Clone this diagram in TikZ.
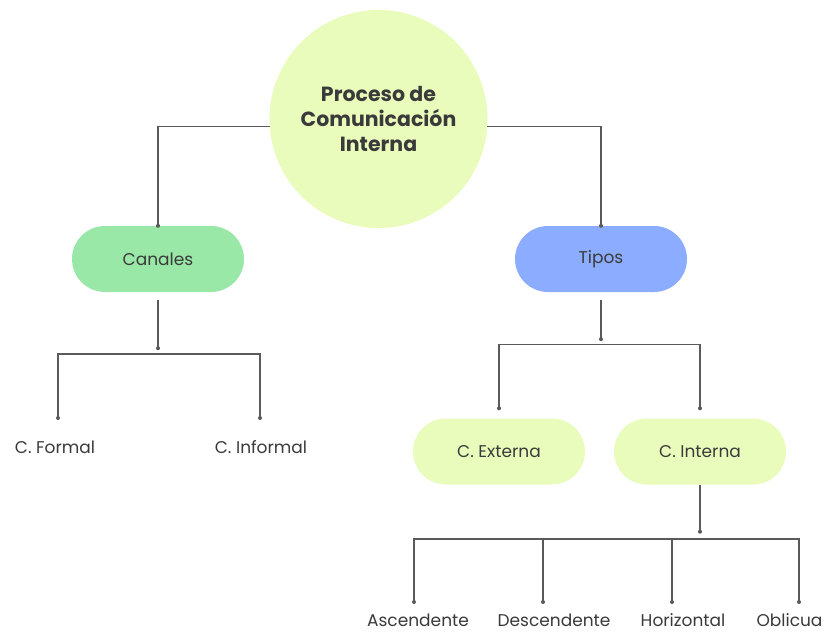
\documentclass[tikz,border=0pt]{standalone}
\usepackage{fontspec}
\setmainfont{Poppins}
\usetikzlibrary{calc}
\definecolor{lime1}{HTML}{E9FCBB}
\definecolor{green1}{HTML}{9AE8A8}
\definecolor{blue1}{HTML}{8CADFF}
\definecolor{txt}{HTML}{3A3A3A}
\definecolor{linec}{HTML}{5A5A5A}
\begin{document}
\begin{tikzpicture}[x=1pt,y=-1pt,
  conn/.style={draw=linec, line width=1.1pt},
  pill/.style={fill=#1, rounded corners=33pt, minimum width=172pt, minimum height=66pt, inner sep=0pt, text=txt, font=\fontsize{17}{20}\selectfont},
  lbl/.style={text=txt, font=\fontsize{17}{20}\selectfont, inner sep=0pt},
  dotc/.style={circle, fill=linec, inner sep=0pt, minimum size=4pt}]
\useasboundingbox[fill=white] (0,0) rectangle (826,632);
\node[circle, fill=lime1, minimum size=218pt, inner sep=0pt, align=center, font=\bfseries\fontsize{20.5}{25}\selectfont, text=txt] (root) at (378.5,119) {Proceso de\\Comunicación\\Interna};
\node[pill=green1] (canales) at (158,259) {Canales};
\node[pill=blue1] (tipos) at (601,259) {Tipos};
\node[pill=lime1] (cext) at (499,451.5) {C. Externa};
\node[pill=lime1] (cint) at (700,451.5) {C. Interna};
% labels
\node[lbl] (cf) at (55,447) {C. Formal};
\node[lbl] (ci) at (261,447) {C. Informal};
\node[lbl] (asc) at (418,620) {Ascendente};
\node[lbl] (des) at (554,620) {Descendente};
\node[lbl] (hor) at (683,620) {Horizontal};
\node[lbl] (obl) at (789.5,620) {Oblicua};
% root to children
\node[dotc] (dcan) at (canales.north) {};
\node[dotc] (dtip) at (tipos.north) {};
\draw[conn] (root.184.2) -| (dcan.center);
\draw[conn] (root.-4.2) -| (dtip.center);
% canales branch
\node[dotc] (qcan) at ($(canales.south)+(0,56)$) {};
\draw[conn] ($(canales.south)+(0,8)$) -- (qcan.center);
\node[dotc] (pcf) at (58,418) {};
\node[dotc] (pci) at (260,418) {};
\draw[conn] (pcf.center) -- ($(pcf.center)+(0,-64)$) -| (pci.center);
% tipos branch
\node[dotc] (qtip) at ($(tipos.south)+(0,47)$) {};
\draw[conn] ($(tipos.south)+(0,8)$) -- (qtip.center);
\node[dotc] (pce) at ($(cext.north)+(0,-10)$) {};
\node[dotc] (pci2) at ($(cint.north)+(0,-10)$) {};
\draw[conn] (pce.center) -- ($(pce.center)+(0,-64)$) -| (pci2.center);
% interna branch
\node[dotc] (qint) at ($(cint.south)+(0,47)$) {};
\draw[conn] (cint.south) -- (qint.center);
\node[dotc] (pa) at (414,602) {};
\node[dotc] (pd) at (543,602) {};
\node[dotc] (ph) at (672,602) {};
\node[dotc] (po) at (799,602) {};
\draw[conn] (pa.center) -- ($(pa.center)+(0,-63)$) -| (po.center);
\draw[conn] (pd.center) -- (pd.center |- 0,539);
\draw[conn] (ph.center) -- (ph.center |- 0,539);
\end{tikzpicture}
\end{document}
